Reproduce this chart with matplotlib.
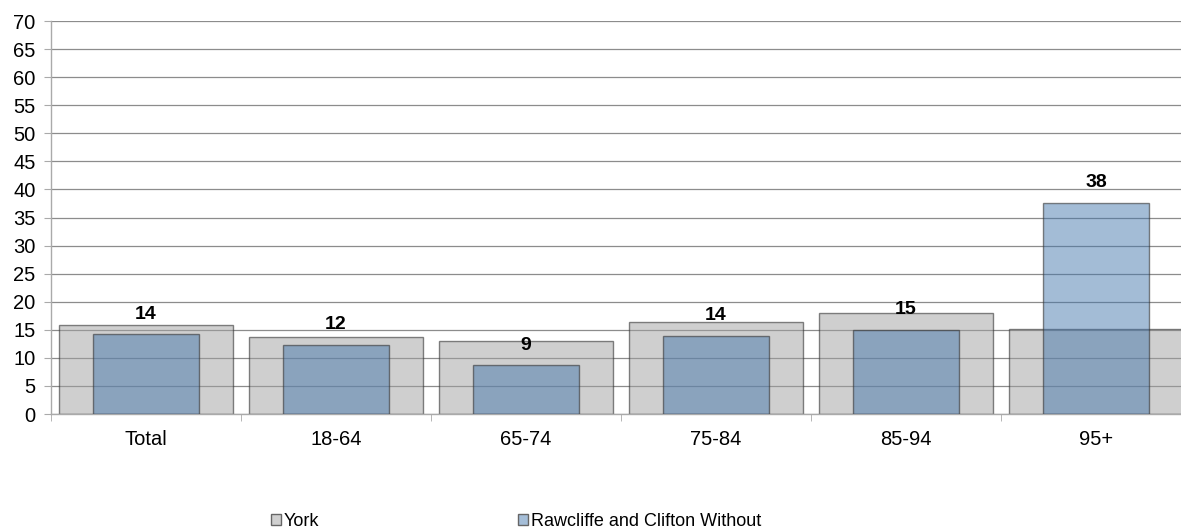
import matplotlib
matplotlib.use("Agg")
import matplotlib.pyplot as plt
import numpy as np
from matplotlib.patches import Patch

categories = ["Total", "18-64", "65-74", "75-84", "85-94", "95+"]
york = [15.8, 13.8, 13.0, 16.3, 18.0, 15.1]
rawcliffe = [14.2, 12.3, 8.7, 13.9, 15.0, 37.6]
rawcliffe_labels = ["14", "12", "9", "14", "15", "38"]
series_names = ["York", "Rawcliffe and Clifton Without"]

plt.rcParams['font.family'] = ['Liberation Sans', 'DejaVu Sans']

fig = plt.figure(figsize=(11.81, 5.30), dpi=100)
ax = fig.add_axes([51/1181, (530-414)/530, 1140/1181, (414-21)/530])

x = np.arange(len(categories))
gray = (0.63, 0.63, 0.63, 0.5)
blue = (0.25, 0.45, 0.67, 0.48)
edge = (0.2, 0.2, 0.2, 0.6)

ax.bar(x, york, width=0.916, color=gray, edgecolor=edge, linewidth=1.0, zorder=2)
ax.bar(x, rawcliffe, width=0.56, color=blue, edgecolor=edge, linewidth=1.0, zorder=3)

for xi, v, lab in zip(x, rawcliffe, rawcliffe_labels):
    ax.annotate(lab, (xi, v), xytext=(0, 14.5), textcoords="offset points",
                ha="center", va="center", fontsize=14, fontweight="bold", zorder=5)

ax.set_xlim(-0.5, len(categories) - 0.5)
ax.set_ylim(0, 70)
ax.set_yticks(np.arange(0, 71, 5))
ax.yaxis.grid(True, color="#8c8c8c", linewidth=0.9, zorder=0)
ax.set_axisbelow(True)

ax.set_xticks(x)
ax.set_xticklabels(categories, fontsize=14.5)
ax.set_xticks(np.arange(-0.5, len(categories), 1), minor=True)
ax.tick_params(axis="x", which="major", length=0, pad=11.5)
ax.tick_params(axis="x", which="minor", length=5, color="#aaaaaa", direction="out")
ax.tick_params(axis="y", labelsize=14.5, length=5, color="#aaaaaa", pad=6)

for s in ["top", "right"]:
    ax.spines[s].set_visible(False)
ax.spines["left"].set_color("#aaaaaa")
ax.spines["bottom"].set_color("#aaaaaa")
ax.spines["left"].set_linewidth(1.0)
ax.spines["bottom"].set_linewidth(1.0)

handles = [Patch(facecolor="#d0d0d0", edgecolor="#666666", linewidth=1.0),
           Patch(facecolor="#a5bed8", edgecolor="#666666", linewidth=1.0)]
leg = fig.legend(handles, series_names, loc="center left", bbox_to_anchor=(271/1181, 1 - 521/530),
                 ncol=2, frameon=False, fontsize=13, handlelength=0.56, handleheight=0.56,
                 handletextpad=0.15, columnspacing=11.0, borderaxespad=0, borderpad=0)

fig.savefig("out.png", dpi=100)
